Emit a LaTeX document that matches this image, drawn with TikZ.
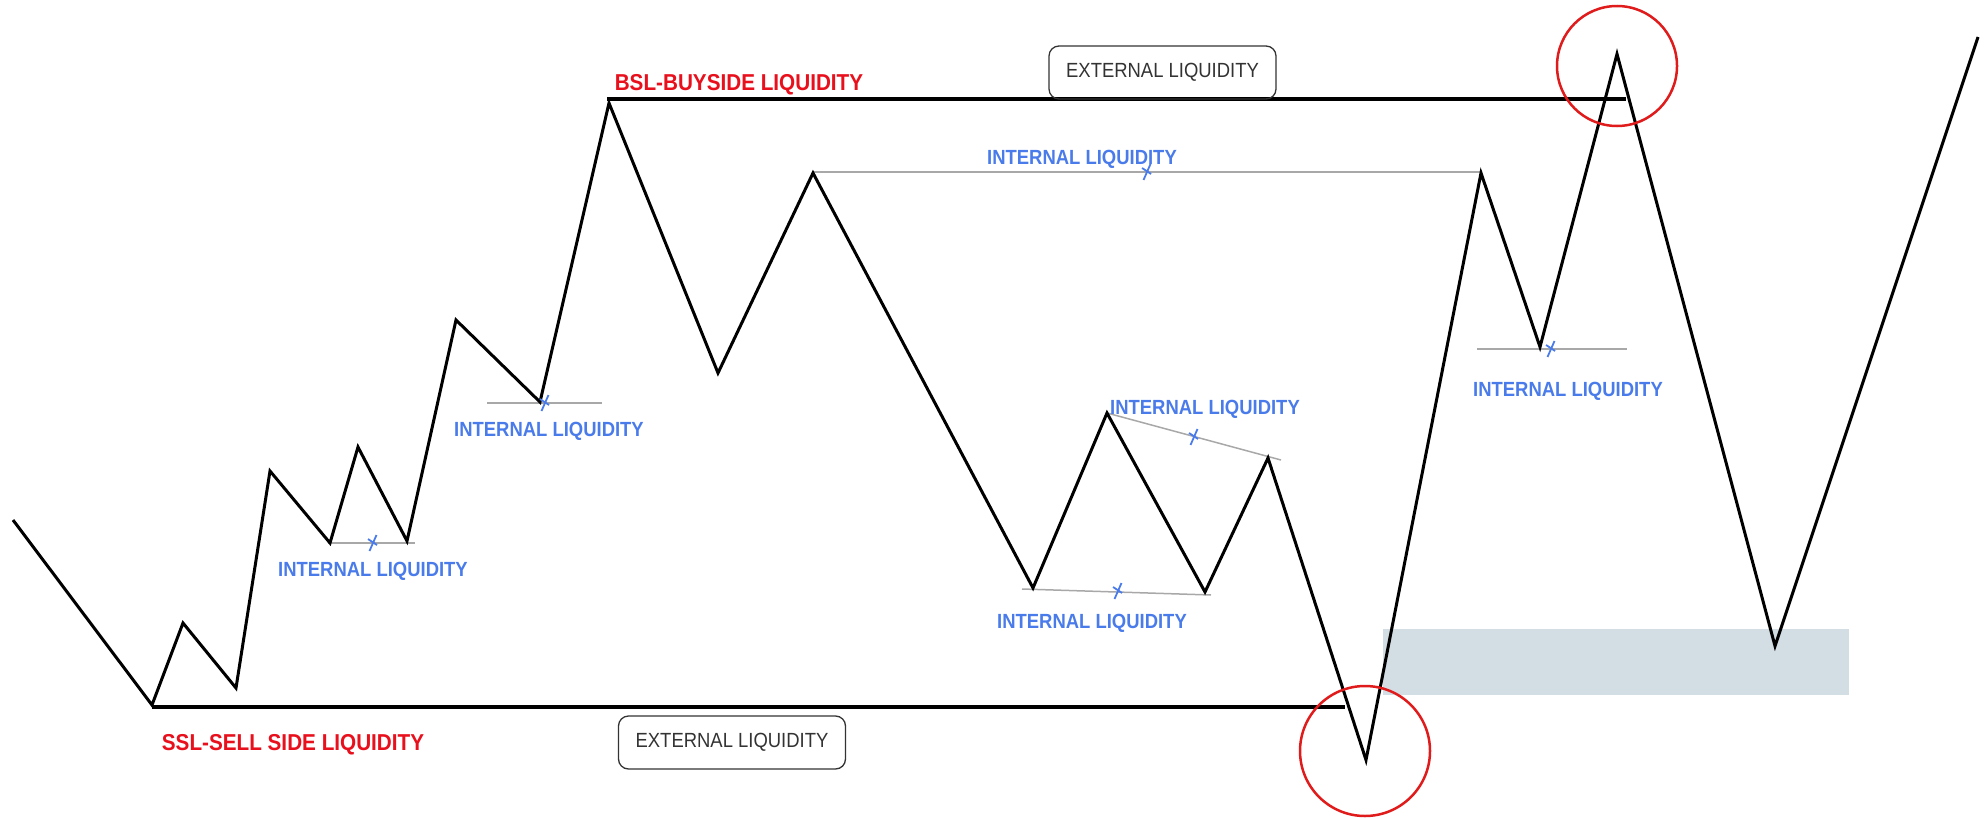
\documentclass[tikz,border=0pt]{standalone}
\usepackage{fontspec}
\newfontfamily\lblfont[FakeStretch=0.9]{Liberation Sans}
\definecolor{bslred}{HTML}{E8101C}
\definecolor{ilblue}{HTML}{4A7BEA}
\definecolor{circred}{HTML}{E01B1B}
\definecolor{zone}{HTML}{D3DDE4}
\definecolor{ilgray}{HTML}{A8A8A8}
\definecolor{boxtext}{HTML}{333333}
\tikzset{
  zig/.style={line width=3pt, black, line join=miter},
  liqline/.style={line width=3.5pt, black},
  illine/.style={ilgray, line width=1.5pt},
  iltext/.style={text=ilblue, font=\lblfont\bfseries\fontsize{20.5}{24}\selectfont, inner sep=0pt},
  redlbl/.style={text=bslred, font=\lblfont\bfseries\fontsize{23}{26}\selectfont, inner sep=0pt},
  extbox/.style={draw=black!80, line width=1.3pt, rounded corners=10pt, minimum width=227pt, minimum height=53pt, inner sep=0pt, text=boxtext, font=\lblfont\fontsize{20.5}{24}\selectfont},
  circ/.style={draw=circred, line width=2.5pt},
  ilcross/.pic={
    \draw[ilblue, line width=1.8pt] (-3.5,8) -- (3.5,-8);
    \draw[ilblue, line width=1.8pt] (-5,-4) -- (4,2);
  }
}
\begin{document}
\begin{tikzpicture}[x=1pt, y=-1pt]
\useasboundingbox (0,0) rectangle (1984,819);
% zone
\fill[zone] (1383,629) rectangle (1849,695);
% zigzag points
\coordinate (p0) at (13,520);
\coordinate (p1) at (152,705);
\coordinate (p2) at (183,623);
\coordinate (p3) at (236,688);
\coordinate (p4) at (270,471);
\coordinate (p5) at (330,543);
\coordinate (p6) at (358,447);
\coordinate (p7) at (407,541);
\coordinate (p8) at (456,320);
\coordinate (p9) at (540,402);
\coordinate (p10) at (609,103);
\coordinate (p11) at (718,373);
\coordinate (p12) at (813,173);
\coordinate (p13) at (1033,588);
\coordinate (p14) at (1107,413);
\coordinate (p15) at (1205,592);
\coordinate (p16) at (1268,458);
\coordinate (p17) at (1366,760);
\coordinate (p18) at (1481,173);
\coordinate (p19) at (1540,347);
\coordinate (p20) at (1617,54);
\coordinate (p21) at (1775,646);
\coordinate (p22) at (1978,37);
% external liquidity lines
\coordinate (bslS) at (607,99);
\coordinate (bslE) at (1626,99);
\coordinate (sslS) at (152,707);
\coordinate (sslE) at (1345,707);
\draw[liqline] (bslS) -- (bslE);
\draw[liqline] (sslS) -- (sslE);
% internal liquidity gray lines
\coordinate (g1a) at (328,543); \coordinate (g1b) at (415,543);
\coordinate (g2a) at (487,403); \coordinate (g2b) at (602,403);
\coordinate (g3a) at (813,172); \coordinate (g3b) at (1481,172);
\coordinate (g4a) at (1107,413); \coordinate (g4b) at (1281,460);
\coordinate (g5a) at (1022,589); \coordinate (g5b) at (1211,595);
\coordinate (g6a) at (1477,349); \coordinate (g6b) at (1627,349);
\draw[illine] (g1a) -- (g1b);
\draw[illine] (g2a) -- (g2b);
\draw[illine] (g3a) -- (g3b);
\draw[illine] (g4a) -- (g4b);
\draw[illine] (g5a) -- (g5b);
\draw[illine] (g6a) -- (g6b);
% zigzag
\draw[zig] (p0) -- (p1) -- (p2) -- (p3) -- (p4) -- (p5) -- (p6) -- (p7) -- (p8) -- (p9) -- (p10) -- (p11) -- (p12) -- (p13) -- (p14) -- (p15) -- (p16) -- (p17) -- (p18) -- (p19) -- (p20) -- (p21) -- (p22);
% crosses
\pic at (373,543) {ilcross};
\pic at (545,403) {ilcross};
\pic at (1147,172) {ilcross};
\pic at (1194,437) {ilcross};
\pic at (1118,591) {ilcross};
\pic at (1551,349) {ilcross};
% labels
\node[iltext] (il1) at (373,571) {INTERNAL LIQUIDITY};
\node[iltext] (il2) at (549,431) {INTERNAL LIQUIDITY};
\node[iltext] (il3) at (1082,159) {INTERNAL LIQUIDITY};
\node[iltext] (il4) at (1205,409) {INTERNAL LIQUIDITY};
\node[iltext] (il5) at (1092,623) {INTERNAL LIQUIDITY};
\node[iltext] (il6) at (1568,391) {INTERNAL LIQUIDITY};
\node[redlbl] (bsl) at (739,85) {BSL-BUYSIDE LIQUIDITY};
\node[redlbl] (ssl) at (293,745) {SSL-SELL SIDE LIQUIDITY};
\node[extbox] (ext1) at (1162.5,72.5) {EXTERNAL LIQUIDITY};
\node[extbox] (ext2) at (732,742.5) {EXTERNAL LIQUIDITY};
% circles
\draw[circ] (1617,66) circle[radius=60];
\draw[circ] (1365,751) circle[radius=65];
\end{tikzpicture}
\end{document}
